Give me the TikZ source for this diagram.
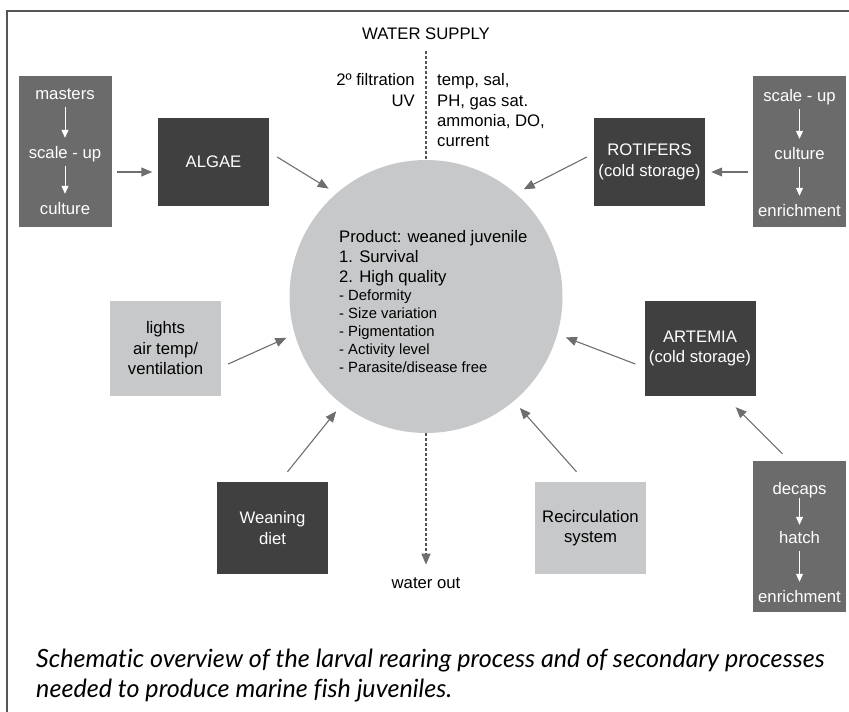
\documentclass[tikz,border=0pt]{standalone}
\usepackage{fontspec}
\setmainfont{Liberation Sans}
\newfontfamily\capfont[Ligatures=NoCommon]{Lato}
\usetikzlibrary{arrows.meta}
\definecolor{cDark}{HTML}{404040}
\definecolor{cMid}{HTML}{6B6B6B}
\definecolor{cLight}{HTML}{C7C8C9}
\definecolor{cFeed}{HTML}{6E6E6E}
\definecolor{cFrame}{HTML}{555555}
\newcommand\mainsize{\fontsize{16.7}{20.5}\selectfont}
\newcommand\critsize{\fontsize{14.8}{18}\selectfont}
\newcommand\capsize{\fontsize{25.1}{30}\selectfont}
\tikzset{
  box/.style={rectangle, minimum width=111pt, minimum height=88pt, inner sep=0pt, align=center, font=\mainsize},
  darkbx/.style={box, fill=cDark, text=white},
  lightbx/.style={box, fill=cLight, text=black},
  srcbox/.style={rectangle, fill=cMid, minimum width=93pt, minimum height=151pt, inner sep=0pt},
  srctext/.style={font=\mainsize, text=white, text height=12pt, text depth=3.5pt, inner sep=3pt, anchor=base},
  stepline/.style={white, line width=1pt, -{Triangle[length=8pt,width=7pt]}, shorten <=1pt, shorten >=5pt},
  feed/.style={cFeed, line width=1.1pt, -{Triangle[length=11pt,width=9pt]}, shorten >=9pt},
  supplyline/.style={cFrame, line width=1.5pt, dash pattern=on 3pt off 2pt}
}

\begin{document}
\begin{tikzpicture}[x=1pt,y=-1pt]
  \useasboundingbox (0,0) rectangle (849,712);
  \draw[line width=2pt, cFrame] (7,712) -- (7,11) -- (849,11);

  % rearing tank
  \node[circle, fill=cLight, minimum size=273pt, inner sep=0pt] (tank) at (426,296.5) {};
  \foreach \txt [count=\i] in {Product: weaned juvenile, 1. Survival, 2. High quality}
    \node[anchor=base west, inner sep=0pt, font=\mainsize] (head\i) at (339,222+20*\i) {\txt};
  \foreach \txt [count=\i] in {- Deformity, - Size variation, - Pigmentation, - Activity level, - Parasite/disease free}
    \node[anchor=base west, inner sep=0pt, font=\critsize] (crit\i) at (339,282.5+18*\i) {\txt};

  % water in and out
  \node[anchor=base, font=\mainsize] (supply) at (426,39) {WATER SUPPLY};
  \foreach \txt [count=\i] in {2º filtration, UV}
    \node[anchor=base east, inner sep=0pt, font=\mainsize] (filt\i) at (415,65.5+20.3*\i) {\txt};
  \foreach \txt [count=\i] in {{temp, sal,}, {PH, gas sat.}, {ammonia, DO,}, current}
    \node[anchor=base west, inner sep=0pt, font=\mainsize] (param\i) at (437,65.5+20.3*\i) {\txt};
  \draw[supplyline, shorten <=8pt] (supply.south) -- (tank.north);
  \node[anchor=base, font=\mainsize] (drain) at (426,588) {water out};
  \draw[supplyline, -{Triangle[length=11pt,width=9pt,color=cFeed]}, shorten >=9pt] (tank.south) -- (drain.north);

  % live feed and other inputs
  \node[darkbx] (algae) at (213.5,162) {ALGAE};
  \node[darkbx] (rotifers) at (649.5,162) {ROTIFERS\\(cold storage)};
  \node[lightbx, minimum height=95pt] (lights) at (165.5,348.5) {lights\\air temp/\\ventilation};
  \node[darkbx, minimum height=95pt] (artemia) at (700,348.5) {ARTEMIA\\(cold storage)};
  \node[darkbx, minimum height=92pt] (weaning) at (272.5,528) {Weaning\\diet};
  \node[lightbx, minimum height=92pt] (recirc) at (590.5,528) {Recirculation\\system};

  % algae culture
  \node[srcbox] (algsrc) at (65,151.5) {};
  \node[srctext] (masters) at (65,99) {masters};
  \node[srctext] (algscale) at (65,158) {scale - up};
  \node[srctext] (algcult) at (65,214) {culture};
  \draw[stepline] (masters) -- (algscale);
  \draw[stepline] (algscale) -- (algcult);

  % rotifer culture
  \node[srcbox] (rotsrc) at (799.5,151.5) {};
  \node[srctext] (rotscale) at (799.5,101) {scale - up};
  \node[srctext] (rotcult) at (799.5,159) {culture};
  \node[srctext] (rotenr) at (799.5,216) {enrichment};
  \draw[stepline] (rotscale) -- (rotcult);
  \draw[stepline] (rotcult) -- (rotenr);

  % artemia production
  \node[srcbox] (decsrc) at (799.5,536.5) {};
  \node[srctext] (decaps) at (799.5,494) {decaps};
  \node[srctext] (hatch) at (799.5,543) {hatch};
  \node[srctext] (artenr) at (799.5,602) {enrichment};
  \draw[stepline, shorten <=-3pt, shorten >=3pt] (decaps) -- (hatch);
  \draw[stepline] (hatch) -- (artenr);

  % arrows
  \draw[feed, shorten >=0pt] ([shift={(5,20.5)}]algsrc.east) -- ([shift={(-5.5,10)}]algae.west);
  \draw[feed, shorten >=0pt] ([shift={(-5,20.5)}]rotsrc.west) -- ([shift={(6,10)}]rotifers.east);
  \draw[feed, shorten >=0pt] ([shift={(-17,-7)}]decsrc.north) -- ([shift={(-20,11)}]artemia.south east);
  \draw[feed] ([shift={(8,-5)}]algae.east) -- (tank.131);
  \draw[feed] ([shift={(-7,-5)}]rotifers.west) -- (tank.49);
  \draw[feed] ([shift={(7,15.5)}]lights.east) -- (tank.196);
  \draw[feed] ([shift={(-9,15.5)}]artemia.west) -- (tank.344);
  \draw[feed] ([shift={(15,-10)}]weaning.north) -- (tank.232);
  \draw[feed] ([shift={(-14,-10)}]recirc.north) -- (tank.310);

  % caption
  \node[anchor=base west, inner sep=0pt, font=\capfont\itshape\capsize] (caption1) at (36,667)
    {Schematic overview of the larval rearing process and of secondary processes};
  \node[anchor=base west, inner sep=0pt, font=\capfont\itshape\capsize] (caption2) at (36,697)
    {needed to produce marine fish juveniles.};
\end{tikzpicture}
\end{document}
